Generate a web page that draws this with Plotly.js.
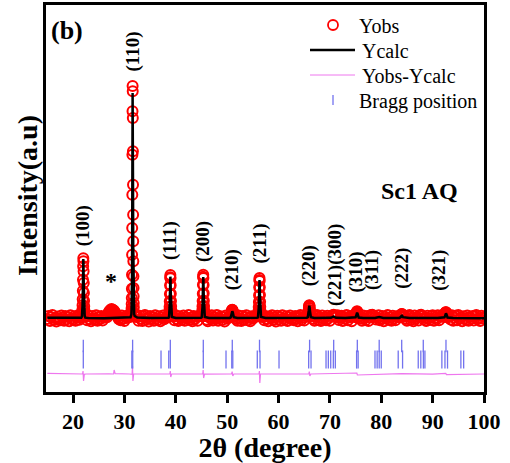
<!DOCTYPE html>
<html><head><meta charset="utf-8">
<script src="https://cdn.plot.ly/plotly-3.0.1.min.js"></script>
<style>html,body{margin:0;padding:0;background:#fff}#chart{width:510px;height:463px}</style>
</head><body><div id="chart"></div>
<script>
// ---- observed pattern: background points (2theta, counts) ----
const bgTheta = [
 15,15.25,15.5,15.75,16,16.25,16.5,16.75,17,17.25,17.5,17.75,18,18.25,18.5,18.75,19,19.25,19.5,19.75,20,20.25,20.5,20.75,21,21.25,21.5,
 22.5,22.75,23,23.25,23.5,23.75,24,24.25,24.5,24.75,25,25.25,25.5,25.75,26,26.25,
 29.25,29.5,29.75,30,30.25,30.5,30.75,31,
 32.25,32.5,32.75,33,33.25,33.5,33.75,34,34.25,34.5,34.75,35,35.25,35.5,35.75,36,36.25,36.5,36.75,37,37.25,37.5,37.75,38,38.25,38.5,
 39.5,39.75,40,40.25,40.5,40.75,41,41.25,41.5,41.75,42,42.25,42.5,42.75,43,43.25,43.5,43.75,44,44.25,44.5,44.75,
 45.75,46,46.25,46.5,46.75,47,47.25,47.5,47.75,48,48.25,48.5,48.75,49,49.25,49.5,49.75,50,50.25,50.5,
 51.5,51.75,52,52.25,52.5,52.75,53,53.25,53.5,53.75,54,54.25,54.5,54.75,55,55.25,55.5,55.75,
 56.75,57,57.25,57.5,57.75,58,58.25,58.5,58.75,59,59.25,59.5,59.75,60,60.25,60.5,60.75,61,61.25,61.5,61.75,62,62.25,62.5,62.75,63,63.25,63.5,63.75,64,64.25,64.5,64.75,65,65.25,65.5,
 66.5,66.75,67,67.25,67.5,67.75,68,68.25,68.5,68.75,69,69.25,69.5,69.75,70,70.25,70.5,70.75,71,71.25,71.5,71.75,72,72.25,72.5,72.75,73,73.25,73.5,73.75,74,74.25,74.5,74.75,
 75.75,76,76.25,76.5,76.75,77,77.25,77.5,77.75,78,78.25,78.5,78.75,79,79.25,79.5,79.75,80,80.25,80.5,80.75,81,81.25,81.5,81.75,82,82.25,82.5,82.75,83,83.25,83.5,
 84.5,84.75,85,85.25,85.5,85.75,86,86.25,86.5,86.75,87,87.25,87.5,87.75,88,88.25,88.5,88.75,89,89.25,89.5,89.75,90,90.25,90.5,90.75,91,91.25,91.5,91.75,92,
 93.25,93.5,93.75,94,94.25,94.5,94.75,95,95.25,95.5,95.75,96,96.25,96.5,96.75,97,97.25,97.5,97.75,98,98.25,98.5,98.75,99,99.25,99.5,99.75,100
];
const bgObs = [
 470,560,410,520,590,440,500,395,545,480,430,575,505,420,560,460,530,400,580,490,445,555,415,525,585,450,500,
 540,430,575,470,405,560,495,440,585,415,530,470,560,425,510,545,
 430,575,480,410,550,500,585,540,
 600,520,420,565,480,410,545,590,455,500,395,560,470,530,420,580,490,440,555,405,515,575,460,500,540,565,
 540,430,585,470,410,555,500,445,575,420,525,480,590,440,510,400,560,470,535,415,550,575,
 560,450,405,545,490,580,425,520,470,590,415,500,555,440,530,395,575,480,520,560,
 540,470,420,575,495,410,560,450,530,585,435,505,400,550,480,525,565,580,
 590,520,430,560,470,405,545,500,580,440,515,395,570,465,530,420,585,490,445,555,410,520,575,460,500,430,560,485,405,540,590,450,515,425,565,550,
 560,470,420,545,590,440,505,410,575,480,525,430,565,495,415,550,580,600,560,520,585,440,500,570,410,530,475,590,435,515,560,405,545,570,
 550,480,420,575,500,440,560,410,525,590,600,570,540,455,510,585,430,495,560,405,540,475,590,445,515,420,570,490,430,555,520,560,
 560,470,415,545,590,440,500,400,575,485,530,425,580,600,555,460,515,410,570,490,440,550,585,420,505,465,580,430,540,575,560,
 540,455,580,420,505,565,430,590,475,520,400,555,490,440,575,415,530,485,560,425,545,590,460,500,410,570,480,530
];
// ---- observed pattern: points on the reflections ----
const pkTheta = [
 21.73,21.76,21.79,21.82,21.85,21.88,21.91,21.94,21.97,22,22.03,22.06,22.09,22.12,22.15,22.18,22.21,22.24,22.27,
 26.5,26.625,26.75,26.875,27,27.125,27.25,27.375,27.5,27.625,27.75,27.875,28,28.125,28.25,28.375,28.5,28.625,28.75,28.875,29,
 31.25,31.3,31.36,31.38,31.4,31.42,31.44,31.46,31.48,31.5,31.52,31.54,31.56,31.58,31.6,31.62,31.64,31.66,31.68,31.7,31.72,31.74,31.76,31.78,31.8,31.82,31.84,31.9,31.95,
 38.68,38.71,38.74,38.77,38.8,38.83,38.86,38.89,38.92,38.95,38.98,39.01,39.04,39.07,39.1,39.13,39.16,39.19,39.22,
 45.08,45.11,45.14,45.17,45.2,45.23,45.26,45.29,45.32,45.35,45.38,45.41,45.44,45.47,45.5,45.53,45.56,45.59,45.62,
 50.7,50.75,50.8,50.85,50.9,50.95,51,51.05,51.1,51.15,51.2,51.25,51.3,
 56.03,56.06,56.09,56.12,56.15,56.18,56.21,56.24,56.27,56.3,56.33,56.36,56.39,56.42,56.45,56.48,56.51,56.54,56.57,
 65.72,65.76,65.8,65.84,65.88,65.92,65.96,66,66.04,66.08,66.12,66.16,66.2,66.24,66.28,
 75,75.05,75.1,75.15,75.2,75.25,75.3,75.35,75.4,75.45,75.5,75.55,75.6,
 83.75,83.8,83.85,83.9,83.95,84,84.05,84.1,84.15,84.2,84.25,
 92.25,92.3,92.35,92.4,92.45,92.5,92.55,92.6,92.65,92.7,92.75,92.8,92.85,92.9,92.95
];
const pkObs = [
 560,600,660,750,880,1060,1320,1650,2050,2290,2200,1900,1550,1250,1020,850,730,640,580,
 560,520,600,640,690,700,740,720,770,730,745,690,720,650,660,600,600,550,540,470,500,
 540,580,640,700,790,920,1100,1380,1800,2400,3200,4200,5400,6700,7460,7300,6500,5500,4500,3600,2800,2200,1750,1400,1150,950,820,650,580,
 560,600,650,730,840,1000,1220,1480,1720,1790,1690,1480,1230,1010,850,730,650,600,560,
 560,600,655,735,850,1010,1230,1500,1740,1800,1700,1490,1240,1020,860,740,660,600,560,
 520,560,600,650,700,740,750,730,700,650,600,560,530,
 555,595,650,725,830,980,1180,1420,1640,1700,1610,1420,1190,990,840,725,650,595,555,
 540,570,610,670,740,810,865,880,860,800,730,665,610,570,540,
 520,550,580,620,660,690,700,680,650,610,575,545,520,
 540,560,580,600,615,620,610,590,570,550,530,
 530,550,575,600,630,655,670,675,660,635,605,580,555,535,520
];
// ---- calculated pattern ----
const calcTheta = [
 15,18,21,21.6,
 21.73,21.79,21.85,21.91,21.97,22,22.03,22.09,22.15,22.21,22.27,22.4,
 23,26,29,30.5,31.2,
 31.3,31.36,31.4,31.44,31.48,31.52,31.56,31.6,31.64,31.68,31.72,31.76,31.8,31.84,31.9,32,
 32.5,35,38,38.6,
 38.68,38.74,38.8,38.86,38.92,38.95,38.98,39.04,39.1,39.16,39.25,
 40,43,44.9,
 45.05,45.14,45.2,45.26,45.32,45.35,45.38,45.44,45.5,45.56,45.65,
 46.5,49,50.5,
 50.7,50.8,50.9,51,51.1,51.2,51.3,
 52,54,55.8,
 56,56.09,56.15,56.21,56.27,56.3,56.33,56.39,56.45,56.51,56.6,
 57.5,60,63,65.5,
 65.7,65.8,65.88,65.96,66,66.04,66.12,66.2,66.3,
 67,69,70.2,70.7,71.2,73,74.8,
 75,75.1,75.2,75.3,75.4,75.5,75.6,
 76.5,78.8,79.6,80.4,82,83.5,
 83.8,83.9,84,84.1,84.2,
 85.5,87.6,88.2,88.8,91,92.1,
 92.3,92.4,92.5,92.6,92.7,92.8,92.9,
 94,97,100
];
const calcI = [
 505,500,495,505,
 540,640,860,1290,2000,2270,2150,1500,990,710,570,510,
 498,495,497,500,520,
 570,610,760,1060,1750,3100,5250,7250,6350,4400,2700,1700,1100,790,620,560,
 512,500,498,505,
 530,630,810,1180,1680,1740,1650,1200,830,640,530,
 500,498,505,
 520,635,820,1190,1690,1730,1650,1210,840,650,530,
 500,497,502,
 520,575,660,700,665,580,525,
 500,496,505,
 520,630,800,1140,1580,1640,1560,1150,820,640,530,
 500,498,497,505,
 525,590,720,845,865,845,715,595,525,
 500,500,505,540,505,498,505,
 520,560,625,660,620,555,515,
 500,502,530,502,497,502,
 530,560,590,555,525,
 498,502,520,502,497,505,
 520,555,610,640,605,550,515,
 500,497,495
];
// ---- difference curve (plotted with its usual offset below the pattern) ----
const diffTheta = [15,21,21.85,21.95,22.05,22.2,22.5,27,27.9,28,28.2,31,31.5,31.58,31.66,31.8,35,
 38.85,38.93,39.02,39.2,45.25,45.33,45.42,45.6,50.85,50.98,51.1,51.3,56.2,56.28,56.36,56.5,60,
 65.9,66,66.1,66.3,70.7,75.25,75.35,80,84,90,92.55,92.7,100];
const diffI = [-1160,-1170,-1180,-1090,-1390,-1190,-1180,-1175,-1180,-1060,-1170,-1180,-1190,-940,-1390,-1180,-1185,
 -1180,-1090,-1270,-1180,-1180,-1060,-1300,-1185,-1180,-1110,-1240,-1180,-1180,-1090,-1450,-1180,-1185,
 -1180,-1110,-1240,-1180,-1165,-1150,-1210,-1180,-1170,-1185,-1160,-1200,-1180];
// ---- Bragg reflections (two phases) ----
const braggTheta1 = [22.0,31.6,38.94,45.36,51.0,56.3,66.05,70.74,75.34,79.6,83.98,88.18,92.6];
const braggTheta2 = [22.0,31.45,31.62,37.13,38.63,38.94,45.36,49.78,50.9,51.1,55.87,56.4,60.1,65.87,66.33,
 69.25,69.7,70.16,70.67,71.06,75.2,75.5,78.78,79.2,79.6,80.0,83.3,84.15,87.2,87.7,88.2,88.5,91.8,92.4,92.9,95.5,96.04];
// ---- reflection labels ----
const hklText = ['(100)','(110)','(111)','(200)','(210)','(211)','(220)','(221)(300)','(310)','(311)','(222)','(321)'];
const hklTheta = [22.0,31.6,38.9,45.3,51.0,56.3,66.0,71.0,75.0,78.2,84.0,91.2];
const legendNames = ['Yobs','Ycalc','Yobs-Ycalc','Bragg position'];

// ---------------- presentation ----------------
const FONT = '"Liberation Serif", "Times New Roman", Times, serif';
const hklLabelY = [3260,8480,2810,2810,1940,2720,2060,2090,1880,1940,2000,1940];
const ROW1 = -340, ROW2 = -745;
const braggColor = '#7272ee';
const diffColor = '#ee77ee';

const traces = [
 {x: bgTheta.concat(pkTheta), y: bgObs.concat(pkObs), name: legendNames[0], type: 'scatter', mode: 'markers',
  marker: {symbol: 'circle-open', size: 10, color: '#ff0000', line: {width: 2, color: '#ff0000'}}},
 {x: calcTheta, y: calcI, name: legendNames[1], type: 'scatter', mode: 'lines',
  line: {color: '#000000', width: 2.5}},
 {x: diffTheta, y: diffI, name: legendNames[2], type: 'scatter', mode: 'lines',
  line: {color: diffColor, width: 1.2}},
 {x: braggTheta1, y: braggTheta1.map(() => ROW1), name: legendNames[3], type: 'scatter', mode: 'markers',
  marker: {symbol: 'line-ns-open', size: 9, color: braggColor, line: {width: 1.3, color: braggColor}}},
 {x: braggTheta2, y: braggTheta2.map(() => ROW2), name: 'Bragg position 2', type: 'scatter', mode: 'markers',
  marker: {symbol: 'line-ns-open', size: 13, color: braggColor, line: {width: 1.3, color: braggColor}}}
];

const annotations = hklText.map((t, i) => ({
 x: hklTheta[i], y: hklLabelY[i], xref: 'x', yref: 'y', text: t, showarrow: false,
 textangle: -90, font: {family: FONT, size: 19, weight: 'bold', color: '#000'}
}));
annotations.push({x: 18.83, y: 9140, xref: 'x', yref: 'y', text: '(b)', showarrow: false,
 font: {family: FONT, size: 26, weight: 'bold', color: '#000'}});
annotations.push({x: 87.5, y: 4310, xref: 'x', yref: 'y', text: 'Sc1 AQ', showarrow: false,
 font: {family: FONT, size: 24, weight: 'bold', color: '#000'}});
annotations.push({x: 27.4, y: 1600, xref: 'x', yref: 'y', text: '*', showarrow: false,
 font: {family: FONT, size: 24, weight: 'bold', color: '#000'}});

// manual legend and y title (pixel positions converted to paper coordinates)
const PL = 46, PW = 438, PB = 392, PH = 387;
const px = v => (v - PL) / PW, py = v => (PB - v) / PH;
annotations.push({x: px(27), y: py(196), xref: 'paper', yref: 'paper', xanchor: 'center', yanchor: 'middle',
 text: 'Intensity(a.u)', textangle: -90, showarrow: false, font: {family: FONT, size: 28, weight: 'bold', color: '#000'}});
const legText = [[357, 26], [360, 51], [360, 76], [357, 101]];
legendNames.forEach((t, i) => annotations.push({
 x: px(legText[i][0]), y: py(legText[i][1]), xref: 'paper', yref: 'paper', xanchor: 'left', yanchor: 'middle',
 text: t, showarrow: false, font: {family: FONT, size: 20, color: '#000'}
}));
const shapes = [
 {type: 'circle', xref: 'paper', yref: 'paper', xsizemode: 'pixel', ysizemode: 'pixel',
  xanchor: px(333), yanchor: py(25), x0: -5, x1: 5, y0: -5, y1: 5, line: {color: '#ff0000', width: 1.8}},
 {type: 'line', xref: 'paper', yref: 'paper', x0: px(310), x1: px(355), y0: py(50), y1: py(50), line: {color: '#000', width: 2.5}},
 {type: 'line', xref: 'paper', yref: 'paper', x0: px(310), x1: px(355), y0: py(75), y1: py(75), line: {color: diffColor, width: 1}},
 {type: 'line', xref: 'paper', yref: 'paper', x0: px(333), x1: px(333), y0: py(105), y1: py(95), line: {color: braggColor, width: 1.3}}
];

const layout = {
 width: 510, height: 463,
 margin: {l: 46, r: 26, t: 5, b: 71},
 paper_bgcolor: '#ffffff', plot_bgcolor: '#ffffff',
 font: {family: FONT, color: '#000'},
 showlegend: false,
 xaxis: {range: [14.74, 100], tick0: 0, dtick: 10, ticks: 'outside', ticklen: 8, tickwidth: 3, tickcolor: '#000',
  showline: true, linewidth: 3, linecolor: '#000', mirror: true, showgrid: false, zeroline: false,
  tickfont: {family: FONT, size: 22, weight: 'bold', color: '#000'},
  title: {text: '2θ (degree)', font: {family: FONT, size: 28, weight: 'bold', color: '#000'}, standoff: 16}},
 yaxis: {range: [-1720, 9890], showticklabels: false, ticks: '', showline: true, linewidth: 3, linecolor: '#000',
  mirror: true, showgrid: false, zeroline: false},
 annotations: annotations,
 shapes: shapes
};

Plotly.newPlot('chart', traces, layout, {displayModeBar: false, staticPlot: true});
</script></body></html>
